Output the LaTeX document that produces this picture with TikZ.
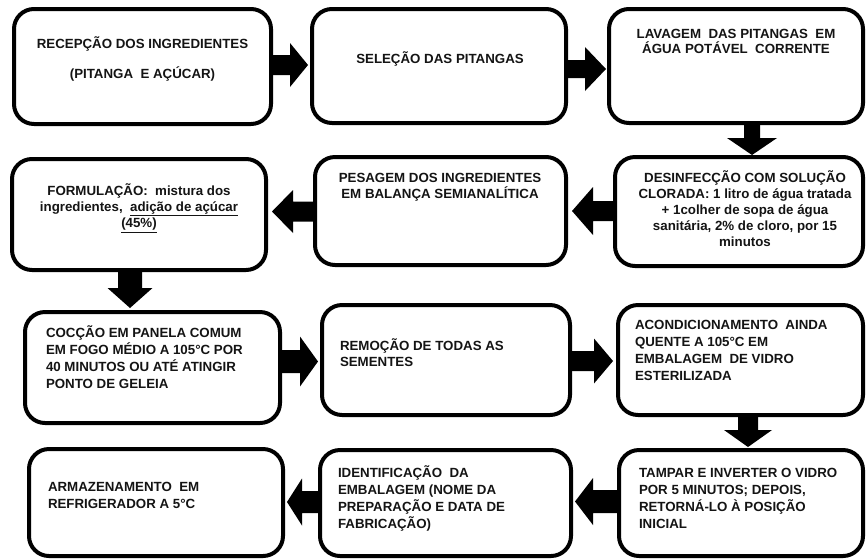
\documentclass[tikz,border=0pt]{standalone}
\usepackage{fontspec}
\setmainfont{Liberation Sans}
\newcommand\myharrow[6]{\fill[arrowfill] (#1,#4-#5) -- (#2,#4-#5) -- (#2,#4-#6) -- (#3,#4) -- (#2,#4+#6) -- (#2,#4+#5) -- (#1,#4+#5) -- cycle;}
\newcommand\myvarrow[6]{\fill[arrowfill] (#1-#2,#4) -- (#1-#2,#5) -- (#1-#3,#5) -- (#1,#6) -- (#1+#3,#5) -- (#1+#2,#5) -- (#1+#2,#4) -- cycle;}
\begin{document}
\begin{tikzpicture}[x=1pt,y=-1pt,
  boxst/.style={draw=black, line width=4pt, rounded corners=20pt, fill=white, inner sep=0pt, outer sep=0pt},
  arrowfill/.style={fill=black},
  txt/.style={inner sep=0pt, outer sep=0pt, text=black!92, font=\fontsize{13.3}{16.8}\selectfont\bfseries}]
\useasboundingbox (0,0) rectangle (866,558);
\fill[white] (0,0) rectangle (866,558);
% boxes
\node[boxst, minimum width=257pt, minimum height=115pt] (b1) at (142.5,66.5) {};
\node[boxst, minimum width=254pt, minimum height=114pt] (b2) at (439,66) {};
\node[boxst, minimum width=254pt, minimum height=114pt] (b3) at (736,66) {};
\node[boxst, minimum width=254pt, minimum height=111pt] (b4) at (139,214.5) {};
\node[boxst, minimum width=251pt, minimum height=108pt] (b5) at (440.5,211) {};
\node[boxst, minimum width=248pt, minimum height=109pt] (b6) at (739,211.5) {};
\node[boxst, minimum width=255pt, minimum height=111pt] (b7) at (152.5,367.5) {};
\node[boxst, minimum width=248pt, minimum height=110pt] (b8) at (446,360) {};
\node[boxst, minimum width=245pt, minimum height=110pt] (b9) at (740.5,360) {};
\node[boxst, minimum width=254pt, minimum height=107pt] (b10) at (156,502.5) {};
\node[boxst, minimum width=251pt, minimum height=106pt] (b11) at (445.5,503) {};
\node[boxst, minimum width=244pt, minimum height=106pt] (b12) at (741,503) {};
% arrows
\myharrow{272}{290}{308}{65}{10}{22}
\myharrow{567}{585}{606}{69}{9}{22}
\myvarrow{752}{8}{25}{124}{138}{155}
\myharrow{614}{593}{572}{211}{10}{24}
\myharrow{314}{293}{272}{211.5}{10}{21.5}
\myvarrow{130}{12}{22.5}{271}{288}{308}
\myharrow{281}{300}{318}{361.5}{11.5}{25}
\myharrow{571}{594}{613}{361}{10}{22.5}
\myvarrow{748}{10}{24}{416}{430}{447}
\myharrow{618}{593}{575}{501.5}{11.5}{23.5}
\myharrow{319}{302}{287}{502}{11}{23.5}
% texts
\node[txt, anchor=base] (t1) at (142.5,48) {\parbox[t]{250pt}{\centering RECEPÇÃO DOS INGREDIENTES\\[13.2pt] (PITANGA~ E AÇÚCAR)}};
\node[txt, anchor=base] (t2) at (440,63) {\parbox[t]{240pt}{\centering SELEÇÃO DAS PITANGAS}};
\node[txt, anchor=base] (t3) at (736,38) {\parbox[t]{240pt}{\centering\baselineskip=15pt LAVAGEM~ DAS PITANGAS~ EM\\ ÁGUA POTÁVEL~ CORRENTE}};
\node[txt, anchor=base] (t4) at (139,195) {\parbox[t]{240pt}{\centering\baselineskip=16.3pt FORMULAÇÃO:~ mistura dos\\ ingredientes,~ \underline{adição de açúcar}\\ \underline{(45\%)}}};
\node[txt, anchor=base] (t5) at (440,182) {\parbox[t]{240pt}{\centering\baselineskip=16pt PESAGEM DOS INGREDIENTES\\ EM BALANÇA SEMIANALÍTICA}};
\node[txt, anchor=base] (t6) at (745,182) {\parbox[t]{240pt}{\centering\baselineskip=16pt DESINFECÇÃO COM SOLUÇÃO\\ CLORADA: 1 litro de água tratada\\ + 1colher de sopa de água\\ sanitária, 2\% de cloro, por 15\\ minutos}};
\node[txt, anchor=base west] (t7) at (46,337) {\parbox[t]{230pt}{\raggedright\baselineskip=17pt COCÇÃO EM PANELA COMUM\\ EM FOGO MÉDIO A 105°C POR\\ 40 MINUTOS OU ATÉ ATINGIR\\ PONTO DE GELEIA}};
\node[txt, anchor=base west] (t8) at (340,350) {\parbox[t]{220pt}{\raggedright\baselineskip=16pt REMOÇÃO DE TODAS AS\\ SEMENTES}};
\node[txt, anchor=base west] (t9) at (635,329) {\parbox[t]{225pt}{\raggedright\baselineskip=17pt ACONDICIONAMENTO~ AINDA\\ QUENTE A 105°C EM\\ EMBALAGEM~ DE VIDRO\\ ESTERILIZADA}};
\node[txt, anchor=base west] (t10) at (48,491) {\parbox[t]{230pt}{\raggedright\baselineskip=17pt ARMAZENAMENTO~ EM\\ REFRIGERADOR A 5°C}};
\node[txt, anchor=base west] (t11) at (338,477) {\parbox[t]{230pt}{\raggedright\baselineskip=17pt IDENTIFICAÇÃO~ DA\\ EMBALAGEM (NOME DA\\ PREPARAÇÃO E DATA DE\\ FABRICAÇÃO)}};
\node[txt, anchor=base west] (t12) at (639,477) {\parbox[t]{225pt}{\raggedright\baselineskip=17pt TAMPAR E INVERTER O VIDRO\\ POR 5 MINUTOS; DEPOIS,\\ RETORNÁ-LO À POSIÇÃO\\ INICIAL}};
\end{tikzpicture}
\end{document}
